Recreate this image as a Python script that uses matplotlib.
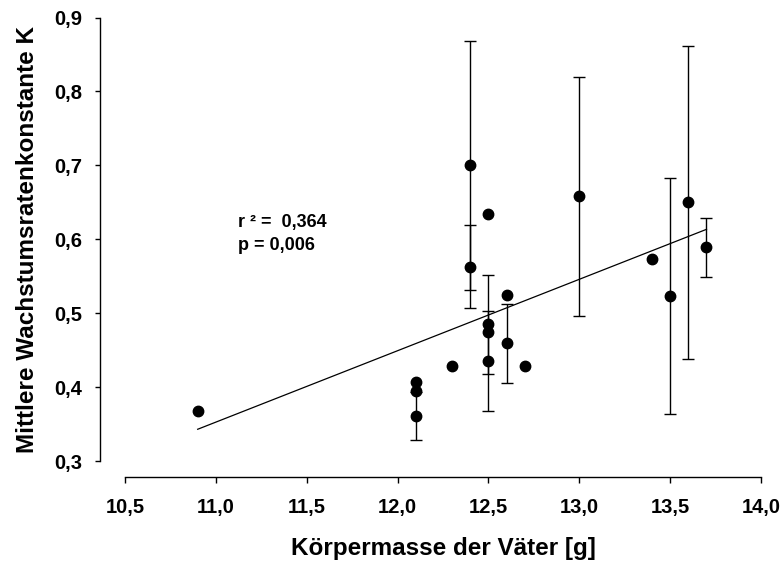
import matplotlib
matplotlib.use("Agg")
import matplotlib.pyplot as plt
import numpy as np

# ---- data ----
father_mass = [10.9, 12.1, 12.1, 12.1, 12.3, 12.4, 12.4, 12.5, 12.5, 12.5, 12.5,
               12.6, 12.6, 12.7, 13.0, 13.4, 13.5, 13.6, 13.7]
growth_k = [0.368, 0.407, 0.395, 0.361, 0.428, 0.700, 0.563, 0.634, 0.485, 0.474, 0.435,
            0.525, 0.459, 0.429, 0.658, 0.573, 0.523, 0.650, 0.589]
growth_err = [0, 0, 0, 0.033, 0, 0.168, 0.056, 0, 0.067, 0, 0.068,
              0, 0.054, 0, 0.162, 0, 0.160, 0.212, 0.040]
reg_slope = 0.0966
reg_intercept = -0.710
stats_text = ["r ² =  0,364", "p = 0,006"]
x_ticks = [10.5, 11.0, 11.5, 12.0, 12.5, 13.0, 13.5, 14.0]
y_ticks = [0.3, 0.4, 0.5, 0.6, 0.7, 0.8, 0.9]
x_label = "Körpermasse der Väter [g]"
y_label = "Mittlere Wachstumsratenkonstante K"

plt.rcParams['font.family'] = ['Liberation Sans', 'DejaVu Sans']
plt.rcParams['font.weight'] = 'bold'

fig = plt.figure(figsize=(7.81, 5.62), dpi=100)
ax = fig.add_axes([125/781, 101/562, 636/781, 443.5/562])

x = np.array(father_mass)
y = np.array(growth_k)
e = np.array(growth_err)
m = e > 0

ax.errorbar(x[m], y[m], yerr=e[m], fmt='none', ecolor='black', elinewidth=1.0,
            capsize=4.5, capthick=1.0, zorder=2)
ax.plot(x, y, 'o', color='black', markersize=7.5, zorder=3)

xl = np.array([x.min(), x.max()])
ax.plot(xl, reg_slope * xl + reg_intercept, color='black', linewidth=0.9, zorder=2)

ax.text(11.12, 0.617, stats_text[0], fontsize=13, fontweight='bold')
ax.text(11.12, 0.585, stats_text[1], fontsize=13, fontweight='bold')

ax.set_xlim(10.5, 14.0)
ax.set_ylim(0.3, 0.9)
ax.set_xticks(x_ticks)
ax.set_yticks(y_ticks)
ax.set_xticklabels([f"{v:.1f}".replace('.', ',') for v in x_ticks])
ax.set_yticklabels([f"{v:.1f}".replace('.', ',') for v in y_ticks])

for s in ['top', 'right']:
    ax.spines[s].set_visible(False)
ax.spines['left'].set_position(('outward', 18))
ax.spines['bottom'].set_position(('outward', 11.5))
ax.spines['left'].set_linewidth(1.0)
ax.spines['bottom'].set_linewidth(1.0)

ax.tick_params(axis='y', direction='out', length=3.6, width=1.0, pad=9, labelsize=14.5)
ax.tick_params(axis='x', direction='out', length=4.3, width=1.0, pad=11, labelsize=14.5)
for lab in ax.get_xticklabels() + ax.get_yticklabels():
    lab.set_fontweight('bold')

ax.set_xlabel(x_label, fontsize=17.5, fontweight='bold', labelpad=14)
ax.set_ylabel(y_label, fontsize=17.5, fontweight='bold', labelpad=11)

fig.savefig("out.png", dpi=100)
